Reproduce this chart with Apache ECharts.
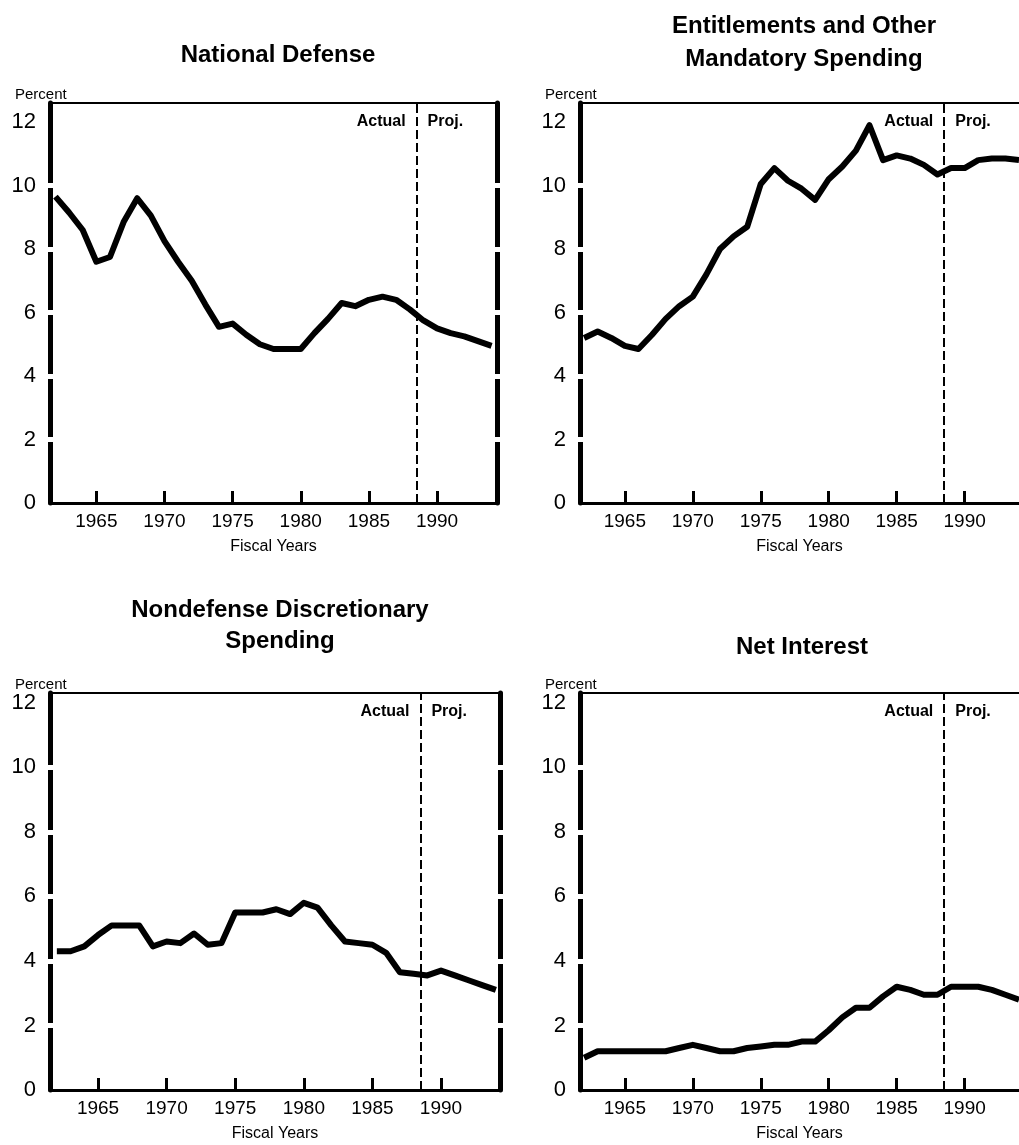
<!DOCTYPE html>
<html>
<head>
<meta charset="utf-8">
<script src="https://cdn.jsdelivr.net/npm/echarts@6/dist/echarts.min.js"></script>
<style>
html,body{margin:0;padding:0;background:#fff;}
#chart{width:1019px;height:1145px;}
</style>
</head>
<body>
<div id="chart"></div>
<script>
// fiscal years and tick marks
var years = [1962,1963,1964,1965,1966,1967,1968,1969,1970,1971,1972,1973,1974,1975,1976,1977,1978,
             1979,1980,1981,1982,1983,1984,1985,1986,1987,1988,1989,1990,1991,1992,1993,1994];
var tickYears = [1965,1970,1975,1980,1985,1990];
var pctTicks = [2,4,6,8,10];
var lastActualYear = 1988;

// percent of GNP
var nationalDefense = [9.65,9.15,8.6,7.6,7.75,8.85,9.6,9.05,8.25,7.6,7.0,6.25,5.55,5.65,5.3,5.0,4.85,
                       4.85,4.85,5.35,5.8,6.3,6.2,6.4,6.5,6.4,6.1,5.75,5.5,5.35,5.25,5.1,4.95];
var entitlements = [5.2,5.4,5.2,4.95,4.85,5.3,5.8,6.2,6.5,7.2,8.0,8.4,8.7,10.05,10.55,10.15,9.9,
                    9.55,10.2,10.6,11.1,11.9,10.8,10.95,10.85,10.65,10.35,10.55,10.55,10.8,10.85,10.85,10.8];
var nondefense = [4.3,4.3,4.45,4.8,5.1,5.1,5.1,4.45,4.6,4.55,4.85,4.5,4.55,5.5,5.5,5.5,5.6,
                  5.45,5.8,5.65,5.1,4.6,4.55,4.5,4.25,3.65,3.6,3.55,3.7,3.55,3.4,3.25,3.1];
var netInterest = [1.0,1.2,1.2,1.2,1.2,1.2,1.2,1.3,1.4,1.3,1.2,1.2,1.3,1.35,1.4,1.4,1.5,
                   1.5,1.85,2.25,2.55,2.55,2.9,3.2,3.1,2.95,2.95,3.2,3.2,3.2,3.1,2.95,2.8];

var FONT = '"Liberation Sans", Arial, Helvetica, sans-serif';

// right-hand panels run off the edge of the page, so their axis stops earlier
var panels = [
  {title:'National Defense', tx:273, ty:34, lh:33, data:nationalDefense, left:50, top:103, width:447, height:400, xMin:1961.6, xMax:1994.4, yMax:12.6, frameRight:true},
  {title:'Entitlements and Other\nMandatory Spending', tx:799, ty:5, lh:33, data:entitlements, left:580, top:103, width:439, height:400, xMin:1961.7, xMax:1994.0, yMax:12.6, frameRight:false},
  {title:'Nondefense Discretionary\nSpending', tx:275, ty:590, lh:31, data:nondefense, left:50, top:693, width:450, height:397, xMin:1961.5, xMax:1994.3, yMax:12.3, frameRight:true},
  {title:'Net Interest', tx:797, ty:626, lh:33, data:netInterest, left:580, top:693, width:439, height:397, xMin:1961.7, xMax:1994.0, yMax:12.3, frameRight:false}
];

var option = {
  animation: false,
  backgroundColor: '#fff',
  title: [], grid: [], xAxis: [], yAxis: [], series: []
};

function yAxisFor(i, p, pos, main, inside){
  return {
    type:'value', gridIndex:i, position:pos, min:0, max:p.yMax, interval:2,
    axisLine:{show:main, onZero:false, lineStyle:{color:'#000', width:5}},
    axisTick:{show:true, inside:inside, length:4, customValues:pctTicks, lineStyle:{color:'#fff', width:5}},
    axisLabel:{show:main && pos === 'left', margin:14, color:'#000', fontSize:22, fontFamily:FONT},
    splitLine:{show:false}
  };
}

panels.forEach(function(p, i){
  option.title.push({
    text:p.title, left:p.tx, top:p.ty, textAlign:'center',
    textStyle:{fontFamily:FONT, fontSize:24, fontWeight:'bold', color:'#000', lineHeight:p.lh}
  });
  option.title.push({
    text:'Percent', left:p.left - 40, top:p.top - 21,
    textStyle:{fontFamily:FONT, fontSize:15, fontWeight:'normal', color:'#000'}
  });
  option.grid.push({left:p.left, top:p.top, width:p.width, height:p.height});

  // bottom axis with the year ticks
  option.xAxis.push({
    type:'value', gridIndex:i, position:'bottom', min:p.xMin, max:p.xMax,
    name:'Fiscal Years', nameLocation:'middle', nameGap:36,
    nameTextStyle:{fontFamily:FONT, fontSize:16, color:'#000'},
    axisLine:{show:true, onZero:false, lineStyle:{color:'#000', width:3}},
    axisTick:{show:true, inside:true, length:12, customValues:tickYears, lineStyle:{color:'#000', width:3}},
    axisLabel:{customValues:tickYears, margin:9, color:'#000', fontSize:19, fontFamily:FONT,
               formatter:function(v){ return String(v); }},
    splitLine:{show:false}
  });
  // top frame line
  option.xAxis.push({
    type:'value', gridIndex:i, position:'top', min:p.xMin, max:p.xMax,
    axisLine:{show:true, onZero:false, lineStyle:{color:'#000', width:2}},
    axisTick:{show:false}, axisLabel:{show:false}, splitLine:{show:false}
  });

  // left (and right) frame: thick line, white ticks break it at each grid value
  var yStart = option.yAxis.length;
  option.yAxis.push(yAxisFor(i, p, 'left', true, true));
  option.yAxis.push(yAxisFor(i, p, 'left', false, false));
  if (p.frameRight) {
    option.yAxis.push(yAxisFor(i, p, 'right', true, true));
    option.yAxis.push(yAxisFor(i, p, 'right', false, false));
  }

  var split = lastActualYear + 0.5;
  option.series.push({
    type:'line', xAxisIndex:i * 2, yAxisIndex:yStart, z:5,
    data:years.map(function(y, k){ return [y, p.data[k]]; }),
    symbol:'none', smooth:false,
    lineStyle:{color:'#000', width:6, join:'round'},
    markLine:{
      silent:true, symbol:['none','none'], label:{show:false},
      lineStyle:{color:'#000', width:2, type:[9,4]},
      data:[{xAxis:split}]
    },
    markArea:{
      silent:true, itemStyle:{color:'rgba(0,0,0,0)'},
      label:{fontFamily:FONT, fontSize:16, fontWeight:'bold', color:'#000', distance:11},
      data:[
        [{name:'Actual', xAxis:p.xMin, yAxis:0, label:{position:'insideTopRight'}}, {xAxis:split, yAxis:p.yMax}],
        [{name:'Proj.', xAxis:split, yAxis:0, label:{position:'insideTopLeft'}}, {xAxis:p.xMax, yAxis:p.yMax}]
      ]
    }
  });
});

var chart = echarts.init(document.getElementById('chart'));
chart.setOption(option);
</script>
</body>
</html>
